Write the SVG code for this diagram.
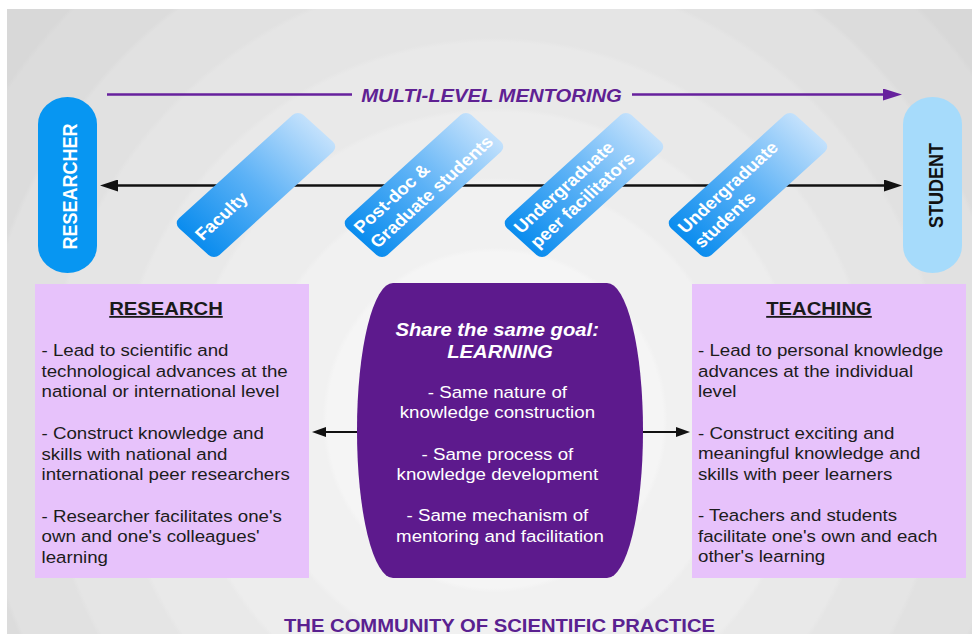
<svg xmlns="http://www.w3.org/2000/svg" width="972" height="634" viewBox="0 0 972 634">
  <defs>
    <!-- soft banded rings behind the whole scheme -->
    <radialGradient id="bgRings" gradientUnits="userSpaceOnUse" cx="495" cy="420" r="760">
      <stop offset="0" stop-color="#f8f8f8"/>
      <stop offset="0.129" stop-color="#f8f8f8"/>
      <stop offset="0.135" stop-color="#f5f5f5"/>
      <stop offset="0.221" stop-color="#f5f5f5"/>
      <stop offset="0.227" stop-color="#f1f1f1"/>
      <stop offset="0.313" stop-color="#f1f1f1"/>
      <stop offset="0.319" stop-color="#ededed"/>
      <stop offset="0.405" stop-color="#ededed"/>
      <stop offset="0.411" stop-color="#e9e9e9"/>
      <stop offset="0.497" stop-color="#e9e9e9"/>
      <stop offset="0.503" stop-color="#e5e5e5"/>
      <stop offset="0.589" stop-color="#e5e5e5"/>
      <stop offset="0.595" stop-color="#e1e1e1"/>
      <stop offset="0.681" stop-color="#e1e1e1"/>
      <stop offset="0.687" stop-color="#dcdcdc"/>
      <stop offset="0.773" stop-color="#dcdcdc"/>
      <stop offset="0.779" stop-color="#d8d8d8"/>
      <stop offset="0.865" stop-color="#d8d8d8"/>
      <stop offset="0.871" stop-color="#d4d4d4"/>
      <stop offset="1" stop-color="#d2d2d2"/>
    </radialGradient>
    <!-- mentoring level boxes: deep blue fading to pale blue along their length -->
    <linearGradient id="tiltFill" x1="0" y1="0" x2="1" y2="0">
      <stop offset="0" stop-color="#0a8cee"/>
      <stop offset="0.5" stop-color="#5db2f6"/>
      <stop offset="1" stop-color="#c3e1fc"/>
    </linearGradient>
    <marker id="headBlack" markerUnits="userSpaceOnUse" viewBox="0 0 18 12" markerWidth="18" markerHeight="12" refX="2" refY="6" orient="auto-start-reverse">
      <path d="M0,0 L18,6 L0,12 z" fill="#111"/>
    </marker>
    <marker id="headPurple" markerUnits="userSpaceOnUse" viewBox="0 0 19 12" markerWidth="19" markerHeight="12" refX="2" refY="6" orient="auto">
      <path d="M0,0 L19,6 L0,12 z" fill="#67219d"/>
    </marker>
    <marker id="headSmall" markerUnits="userSpaceOnUse" viewBox="0 0 14 10" markerWidth="14" markerHeight="10" refX="2" refY="5" orient="auto">
      <path d="M0,0 L14,5 L0,10 z" fill="#111"/>
    </marker>
    <style>
      text { font-family: "Liberation Sans", Arial, Helvetica, sans-serif; }
      .pill-dark { fill: #0796f2; }
      .pill-light { fill: #a6dbfb; }
      .pill-text { font-size: 18px; font-weight: bold; text-anchor: middle; }
      .tilt { fill: url(#tiltFill); }
      .tilt-label { fill: #ffffff; font-size: 17px; font-weight: bold; }
      .panel { fill: #e7c2fb; }
      .panel-head { fill: #1a1a1a; font-size: 18.4px; font-weight: bold; text-anchor: middle; text-decoration: underline; }
      .panel-body { fill: #1c1c1c; font-size: 17px; }
      .hub { fill: #5d1a8d; }
      .hub-head { fill: #ffffff; font-size: 18.4px; font-weight: bold; font-style: italic; text-anchor: middle; }
      .hub-body { fill: #ffffff; font-size: 17px; text-anchor: middle; }
      .mentor-label { fill: #5f2193; font-size: 18.4px; font-weight: bold; font-style: italic; text-anchor: middle; }
      .footer { fill: #5a2190; font-size: 18.4px; font-weight: bold; text-anchor: middle; }
      .conn-black { stroke: #111; stroke-width: 2.5; fill: none; }
      .conn-purple { stroke: #67219d; stroke-width: 2.5; fill: none; }
      .conn-small { stroke: #111; stroke-width: 2; fill: none; }
    </style>
  </defs>

  <!-- page and ringed backdrop -->
  <rect x="0" y="0" width="972" height="634" fill="#ffffff"/>
  <rect x="7" y="9" width="965" height="625" fill="url(#bgRings)"/>

  <!-- connectors -->
  <g id="connectors">
    <path id="mentoring-arrow" class="conn-purple" d="M107,94.5 H352 M632,94.5 H885" marker-end="url(#headPurple)"/>
    <line id="researcher-student" class="conn-black" x1="116" y1="185.5" x2="886" y2="185.5" marker-start="url(#headBlack)" marker-end="url(#headBlack)"/>
    <line id="hub-to-research" class="conn-small" x1="357" y1="432" x2="324" y2="432" marker-end="url(#headSmall)"/>
    <line id="hub-to-teaching" class="conn-small" x1="643" y1="432" x2="678" y2="432" marker-end="url(#headSmall)"/>
  </g>

  <text class="mentor-label" transform="translate(491.5,102) scale(1.1,1)">MULTI-LEVEL MENTORING</text>

  <!-- end points of the mentoring chain -->
  <g id="researcher">
    <rect class="pill-dark" x="38" y="97" width="59" height="176" rx="29.5" ry="27"/>
    <text class="pill-text" fill="#ffffff" transform="translate(67.5,186.5) scale(1.1,1) rotate(-90)" x="0" y="8.6">RESEARCHER</text>
  </g>
  <g id="student">
    <rect class="pill-light" x="903" y="97" width="59" height="176" rx="29.5" ry="27"/>
    <text class="pill-text" fill="#111111" transform="translate(932.5,185.5) scale(1.1,1) rotate(-90)" x="0" y="9.8">STUDENT</text>
  </g>

  <!-- mentoring levels -->
  <g id="faculty" transform="translate(256,185) scale(1.1,1) rotate(-45)">
    <rect class="tilt" x="-80" y="-26" width="160" height="52" rx="7"/>
    <text class="tilt-label" x="-74" y="5.5">Faculty</text>
  </g>
  <g id="postdoc-graduate" transform="translate(424,185) scale(1.1,1) rotate(-45)">
    <rect class="tilt" x="-80" y="-26" width="160" height="52" rx="7"/>
    <text class="tilt-label"><tspan x="-75" y="-5.5">Post-doc &amp;</tspan><tspan x="-75" y="15.5">Graduate students</tspan></text>
  </g>
  <g id="undergraduate-facilitators" transform="translate(584,185) scale(1.1,1) rotate(-45)">
    <rect class="tilt" x="-80" y="-26" width="160" height="52" rx="7"/>
    <text class="tilt-label"><tspan x="-75" y="-5.5">Undergraduate</tspan><tspan x="-75" y="15.5">peer facilitators</tspan></text>
  </g>
  <g id="undergraduate-students" transform="translate(748,185) scale(1.1,1) rotate(-45)">
    <rect class="tilt" x="-80" y="-26" width="160" height="52" rx="7"/>
    <text class="tilt-label"><tspan x="-75" y="-5.5">Undergraduate</tspan><tspan x="-75" y="15.5">students</tspan></text>
  </g>

  <!-- research panel -->
  <g id="research">
    <rect class="panel" x="35" y="284" width="274" height="294"/>
    <text class="panel-head" transform="translate(166,315) scale(1.1,1)">RESEARCH</text>
    <g transform="translate(41.5,0) scale(1.1,1)">
      <text class="panel-body">
        <tspan x="0" y="356.5">- Lead to scientific and</tspan>
        <tspan x="0" y="377">technological advances at the</tspan>
        <tspan x="0" y="397.5">national or international level</tspan>
        <tspan x="0" y="439.5">- Construct knowledge and</tspan>
        <tspan x="0" y="460">skills with national and</tspan>
        <tspan x="0" y="480.5">international peer researchers</tspan>
        <tspan x="0" y="522">- Researcher facilitates one's</tspan>
        <tspan x="0" y="542.5">own and one's colleagues'</tspan>
        <tspan x="0" y="563">learning</tspan>
      </text>
    </g>
  </g>

  <!-- shared goal hub -->
  <g id="shared-goal">
    <rect class="hub" x="357" y="283" width="286" height="295" rx="36" ry="147"/>
    <g transform="translate(500,0) scale(1.1,1)">
      <text class="hub-head">
        <tspan x="0" y="336.5">Share the same goal:</tspan>
        <tspan x="0" y="358">LEARNING</tspan>
      </text>
      <text class="hub-body">
        <tspan x="0" y="398">- Same nature of</tspan>
        <tspan x="0" y="418.5">knowledge construction</tspan>
        <tspan x="0" y="460">- Same process of</tspan>
        <tspan x="0" y="480.5">knowledge development</tspan>
        <tspan x="0" y="521.5">- Same mechanism of</tspan>
        <tspan x="0" y="542">mentoring and facilitation</tspan>
      </text>
    </g>
  </g>

  <!-- teaching panel -->
  <g id="teaching">
    <rect class="panel" x="692" y="284" width="274" height="294"/>
    <text class="panel-head" transform="translate(819,315) scale(1.1,1)">TEACHING</text>
    <g transform="translate(698,0) scale(1.1,1)">
      <text class="panel-body">
        <tspan x="0" y="356.5">- Lead to personal knowledge</tspan>
        <tspan x="0" y="377">advances at the individual</tspan>
        <tspan x="0" y="397.5">level</tspan>
        <tspan x="0" y="439">- Construct exciting and</tspan>
        <tspan x="0" y="459.5">meaningful knowledge and</tspan>
        <tspan x="0" y="480">skills with peer learners</tspan>
        <tspan x="0" y="521.5">- Teachers and students</tspan>
        <tspan x="0" y="542">facilitate one's own and each</tspan>
        <tspan x="0" y="562.5">other's learning</tspan>
      </text>
    </g>
  </g>

  <text class="footer" transform="translate(499.5,632) scale(1.1,1)">THE COMMUNITY OF SCIENTIFIC PRACTICE</text>
</svg>
